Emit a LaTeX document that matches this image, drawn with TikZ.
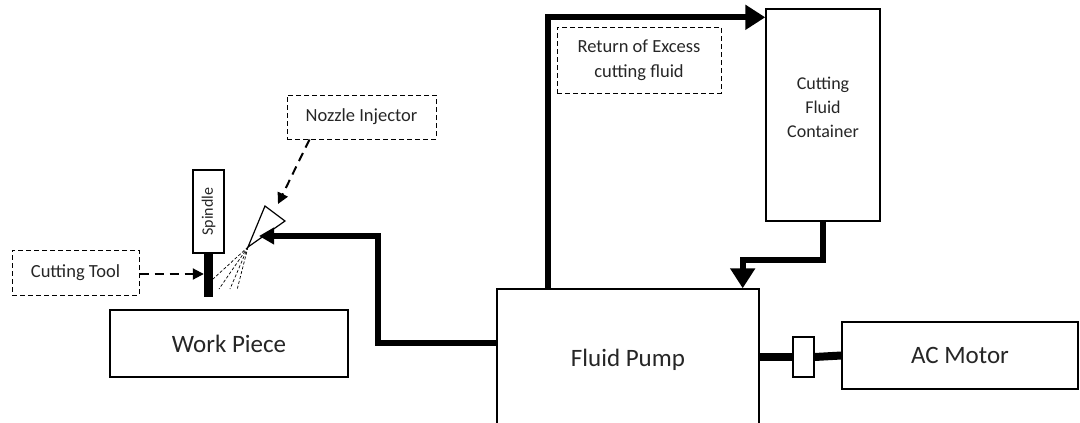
\documentclass[tikz,border=0pt]{standalone}
\usepackage{fontspec}
\setmainfont{Carlito}
\usetikzlibrary{arrows.meta,calc}
\definecolor{txt}{gray}{0.15}
\begin{document}
\begin{tikzpicture}[x=1pt,y=-1pt,
  box/.style={draw, line width=1.4pt, rectangle, inner sep=0pt, fill=white, text=txt, font=\fontsize{25}{30}\selectfont},
  dbox/.style={draw, line width=1pt, dash pattern=on 5pt off 3pt, inner sep=0pt, align=center, text=txt, font=\fontsize{18.5}{25}\selectfont},
  small/.style={inner sep=0pt, align=center, text=txt, font=\fontsize{18}{24}\selectfont},
  big/.style={inner sep=0pt, text=txt, font=\fontsize{25}{30}\selectfont},
  darrow/.style={line width=2pt, dash pattern=on 9pt off 6pt, -{Triangle[length=11pt,width=11pt]}},
  tarrow/.style={line width=6pt, -{Triangle[length=20pt,width=24pt]}},
  spray/.style={line width=0.7pt, dash pattern=on 3pt off 2pt},
  shaft/.style={line width=8pt}
]
\useasboundingbox (0,0) rectangle (1080,423);

% boxes
\node[box, minimum width=238pt, minimum height=67pt] (wp) at (229,343.5) {Work Piece};
\node[box, minimum width=262pt, minimum height=151pt] (pump) at (628,364.5) {};
\node[big] (pumplabel) at (628,360) {Fluid Pump};
\node[box, minimum width=236pt, minimum height=67pt] (motor) at (960,355.5) {AC Motor};
\node[box, minimum width=114pt, minimum height=212pt] (cont) at (823,115) {};
\node[small] (contlabel) at (823,107) {Cutting\\Fluid\\Container};
\node[dbox, minimum width=164pt, minimum height=66pt] (ret) at (639,60) {Return of Excess\\cutting fluid};
\node[dbox, minimum width=149pt, minimum height=44pt] (noz) at (361.5,117) {Nozzle Injector};
\node[dbox, minimum width=127pt, minimum height=45pt] (tb) at (75.5,272.5) {Cutting Tool};
\node[box, rotate=90, minimum width=83pt, minimum height=31pt, font=\fontsize{16}{18}\selectfont] (spin) at (208.5,211.5) {Spindle};
\node[fill=black, draw=none, inner sep=0pt, minimum width=9pt, minimum height=44pt] (tool) at (208.5,275) {};

% nozzle
\coordinate (ntip) at (248,247);
\draw[line width=1.2pt, line join=miter] (ntip) -- (265,206) -- (285,221) -- cycle;
\coordinate (nozin) at (278,204);
\coordinate (nozfeed) at (259,236);
\foreach \e in {(213,279),(219,289),(230,289),(237,290)}
  \draw[spray] (ntip) -- \e;

% connectors
\draw[darrow] ($(noz.south west)+(23,0)$) -- (nozin);
\draw[darrow] (tb.east |- 0,274) -- (tool.west |- 0,274);
\draw[line width=6pt, -{Triangle[length=15pt,width=16pt]}] (pump.west |- 0,343) -- (378,343) -- (378,236) -- (nozfeed);
\draw[tarrow] ($(pump.north west)+(52,0)$) |- ($(cont.north west)+(0,9)$);
\draw[tarrow] (cont.south) -- ++(0,38) -| ($(pump.north east)+(-17,0)$);

% shaft and coupling
\node[box, minimum width=21pt, minimum height=40pt] (coup) at (803.5,357) {};
\draw[shaft] (pump.east |- coup) -- (coup.west);
\draw[shaft] (coup.east) -- (motor.west);
\end{tikzpicture}
\end{document}
